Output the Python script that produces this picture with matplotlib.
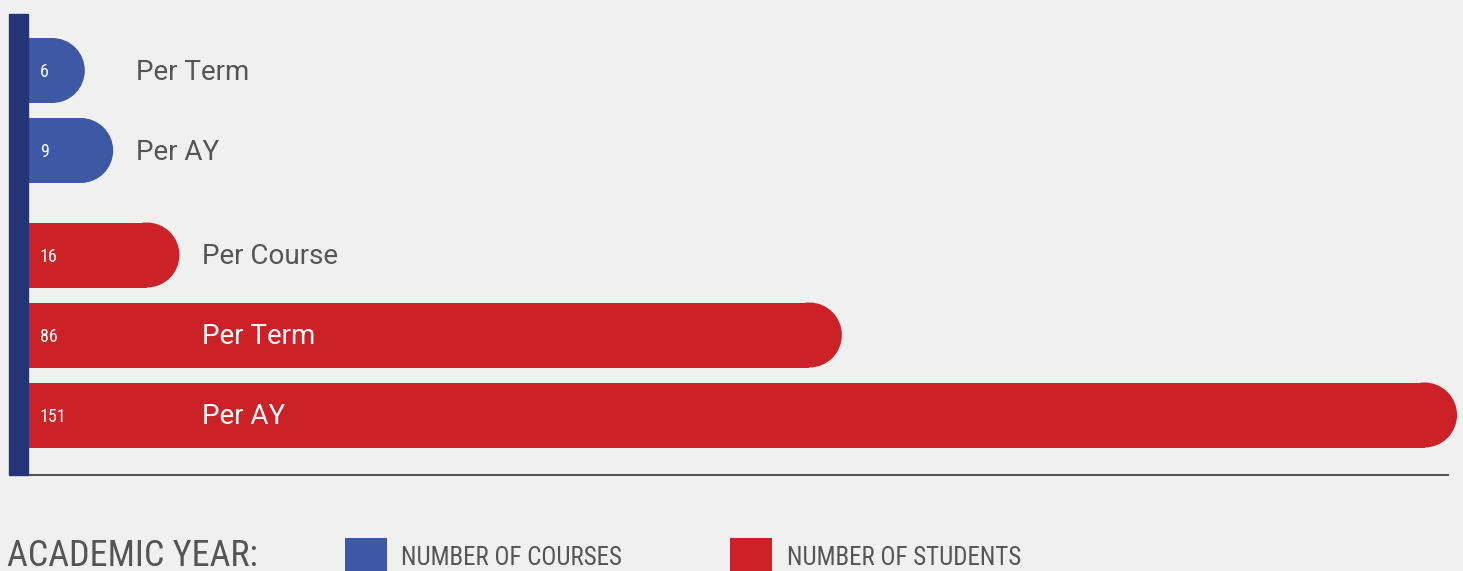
import matplotlib
matplotlib.use("Agg")
import matplotlib.pyplot as plt
from matplotlib.patches import Rectangle, Ellipse

categories = ["Per Term", "Per AY", "Per Course", "Per Term", "Per AY"]
values = [6, 9, 16, 86, 151]
series = ["courses", "courses", "students", "students", "students"]
legend_title = "ACADEMIC YEAR:"
legend_labels = ["NUMBER OF COURSES", "NUMBER OF STUDENTS"]

BG = "#f0f0f0"
BLUE = "#3d59a5"
RED = "#cd2128"
NAVY = "#263477"
GRAY = "#555555"
colors = {"courses": BLUE, "students": RED}

W, H = 1463, 571
fig = plt.figure(figsize=(W / 100, H / 100), dpi=100, facecolor=BG)
ax = fig.add_axes([0, 0, 1, 1])
ax.set_facecolor(BG)
ax.axis("off")

x0_px, x151_px = 28, 1457
s = (x151_px - x0_px) / max(values)  # px per unit
ax.set_xlim(-x0_px / s, (W - x0_px) / s)
ax.set_ylim(H, 0)


def px(xp):
    return (xp - x0_px) / s


bar_h = 65
r_x = (bar_h / 2) / s
centers = [70.5, 150.5, 255, 335, 415]

cond = ["Roboto Condensed", "DejaVu Sans"]
label_font = ["Roboto", "DejaVu Sans"]

# navy spine
fig.patches.append(Rectangle((9 / W, 1 - 475 / H), 19 / W, (475 - 14) / H,
                             transform=fig.transFigure, color=NAVY, zorder=5))
# baseline
ax.plot([0, px(1448)], [475, 475], color=GRAY, lw=1.5, zorder=1)

for cat, v, ser, yc in zip(categories, values, series, centers):
    c = colors[ser]
    ax.add_patch(Rectangle((0, yc - bar_h / 2), v - r_x, bar_h, color=c, lw=0, zorder=2))
    ax.add_patch(Ellipse((v - r_x, yc), 2 * r_x, bar_h, color=c, lw=0, zorder=2))
    ax.text(px(40), yc + 1.5, str(v), color="white", fontsize=13, va="center",
            ha="left", family=cond, zorder=3)
    lx = px(136 if ser == "courses" else 202)
    inside = v > lx + 10
    ax.text(lx, yc + 2, cat, color="white" if inside else GRAY, fontsize=20,
            va="center", ha="left", family=label_font, zorder=3)

# legend
ax.text(px(7), 566, legend_title, color=GRAY, fontsize=26, family=cond,
        ha="left", va="baseline")
for (lab, c, bx, tx) in [(legend_labels[0], BLUE, 345, 401), (legend_labels[1], RED, 730, 787)]:
    ax.add_patch(Rectangle((px(bx), 538), 42 / s, 40, color=c, lw=0))
    ax.text(px(tx), 565, lab, color=GRAY, fontsize=18, family=cond,
            ha="left", va="baseline")

fig.savefig("out.png", dpi=100, facecolor=BG)
